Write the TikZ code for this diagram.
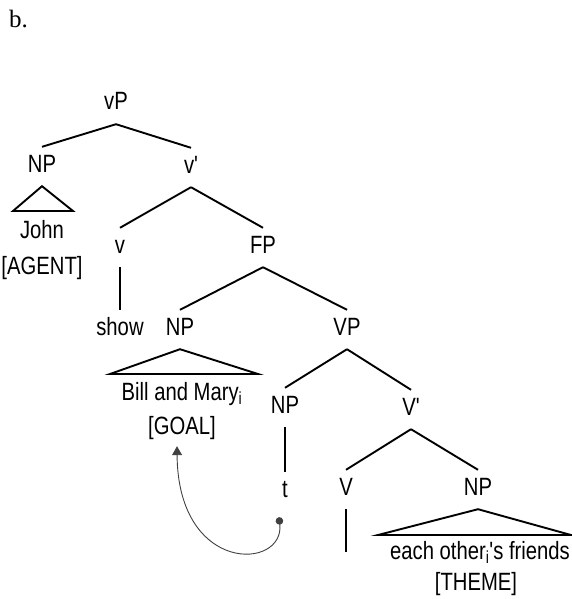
\documentclass[tikz,border=0pt]{standalone}
\usepackage{fontspec}
\usetikzlibrary{arrows.meta}
\newfontfamily\treefont{Liberation Sans}[FakeStretch=0.81]
\newfontfamily\itemfont{Liberation Serif}

\begin{document}
\begin{tikzpicture}[x=1pt, y=-1pt,
  every node/.style={font=\treefont\fontsize{25}{30}\selectfont},
  cat/.style={anchor=base, inner xsep=0pt, inner ysep=8pt, text height=17pt, text depth=6pt},
  branch/.style={line width=1.9pt},
  move/.style={draw=black!75, line width=0.9pt}]
\useasboundingbox (0,0) rectangle (571,599);
\node[anchor=base west, inner sep=0pt, font=\itemfont\fontsize{25}{30}\selectfont] (item) at (9,28) {b.};

% categories
\node[cat] (vP) at (116,110) {vP};
\node[cat] (NPsubj) at (42,172) {NP};
\node[cat] (vbar) at (191,173) {v'};
\node[cat] (v) at (120,253) {v};
\node[cat] (FP) at (263,253) {FP};
\node[cat] (show) at (120,335) {show};
\node[cat] (NPgoal) at (180,335) {NP};
\node[cat] (VP) at (347,335) {VP};
\node[cat] (NPt) at (285,413) {NP};
\node[cat] (Vbar) at (411,415) {V'};
\node[cat] (t) at (285,497) {t};
\node[cat] (V) at (346,495) {V};
\node[cat] (NPtheme) at (478,495) {NP};

% leaves
\node[cat] (john) at (42,238) {John};
\node[cat] (agent) at (42,274) {[AGENT]};
\node[cat] (bill) at (182,400) {Bill and Mary\textsubscript{i}};
\node[cat] (goal) at (182,434) {[GOAL]};
\node[cat] (each) at (480,559) {each other\textsubscript{i}'s friends};
\node[cat] (theme) at (476,590) {[THEME]};

% roof corners and loose ends
\coordinate (roofA-l) at (13,211);
\coordinate (roofA-r) at (73,211);
\coordinate (roofB-l) at (110,374);
\coordinate (roofB-r) at (258,374);
\coordinate (roofC-l) at (378,535);
\coordinate (roofC-r) at (571,535);
\coordinate (Vend) at (346,552);

\draw[branch] (vP.south) -- (NPsubj.north);
\draw[branch] (vP.south) -- (vbar.north);
\draw[branch] (vbar.south) -- (v.north);
\draw[branch] (vbar.south) -- (FP.north);
\draw[branch] (v.south) -- (show.north);
\draw[branch] (FP.south) -- (NPgoal.north);
\draw[branch] (FP.south) -- (VP.north);
\draw[branch] (VP.south) -- (NPt.north);
\draw[branch] (VP.south) -- (Vbar.north);
\draw[branch] (NPt.south) -- (t.north);
\draw[branch] (Vbar.south) -- (V.north);
\draw[branch] (Vbar.south) -- (NPtheme.north);
\draw[branch] (V.south) -- (Vend);

% roofs
\draw[branch] (NPsubj.south) -- (roofA-l) -- (roofA-r) -- cycle;
\draw[branch] (NPgoal.south) -- (roofB-l) -- (roofB-r) -- cycle;
\draw[branch] (NPtheme.south) -- (roofC-l) -- (roofC-r) -- cycle;

% movement
\draw[move, {Circle[length=7.5pt]}-{Triangle[length=9pt,width=10pt]}]
  ([xshift=-6pt,yshift=-6pt]t.south) .. controls (285,570) and (178,575) .. ([xshift=-5pt,yshift=2pt]goal.south);
\end{tikzpicture}
\end{document}
